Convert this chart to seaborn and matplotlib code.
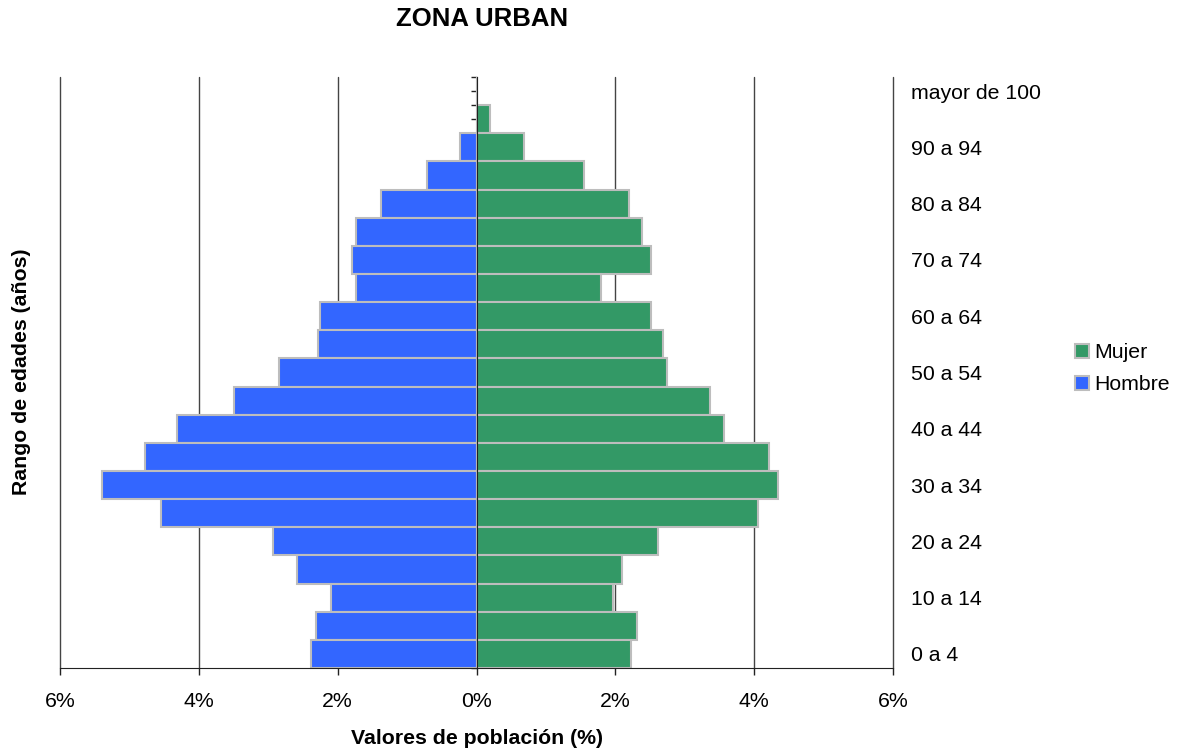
import matplotlib
matplotlib.use("Agg")
import matplotlib.pyplot as plt
from matplotlib.patches import Patch
import seaborn as sns
import pandas as pd
import numpy as np

# age groups, bottom to top
edades = ["0 a 4", "5 a 9", "10 a 14", "15 a 19", "20 a 24", "25 a 29",
          "30 a 34", "35 a 39", "40 a 44", "45 a 49", "50 a 54", "55 a 59",
          "60 a 64", "65 a 69", "70 a 74", "75 a 79", "80 a 84", "85 a 89",
          "90 a 94", "95 a 99", "mayor de 100"]
hombre = [2.38, 2.31, 2.10, 2.59, 2.93, 4.54, 5.40, 4.77, 4.32, 3.49, 2.85,
          2.28, 2.26, 1.73, 1.79, 1.74, 1.38, 0.72, 0.24, 0.0, 0.0]
mujer = [2.23, 2.31, 1.97, 2.09, 2.62, 4.06, 4.34, 4.22, 3.56, 3.37, 2.75,
         2.68, 2.51, 1.79, 2.52, 2.39, 2.20, 1.55, 0.68, 0.20, 0.0]
x_ticks = [-6, -4, -2, 0, 2, 4, 6]

BLUE, GREEN, EDGE = "#3366FF", "#339966", "#BDBDBD"
FS = 15.3

sns.set_style("white")
plt.rcParams["font.family"] = ["Liberation Sans", "DejaVu Sans"]
plt.rcParams.update({"text.color": "black", "xtick.color": "black",
                     "ytick.color": "black", "axes.labelcolor": "black"})

df = pd.DataFrame({
    "edad": edades * 2,
    "sexo": ["Hombre"] * len(edades) + ["Mujer"] * len(edades),
    "valor": [-v for v in hombre] + mujer,
})
orden = edades[::-1]  # top row first

fig = plt.figure(figsize=(11.82, 7.54), dpi=100)
ax = fig.add_axes([60 / 1182, 86 / 754, 833 / 1182, 591 / 754])

sns.barplot(data=df, x="valor", y="edad", hue="sexo", order=orden,
            palette={"Hombre": BLUE, "Mujer": GREEN}, dodge=False,
            saturation=1, width=1.0, edgecolor=EDGE, linewidth=1.5, ax=ax,
            zorder=2, legend=False)

ax.set_xlim(-6, 6)
ax.set_ylim(len(edades) - 0.5, -0.5)

# vertical grid
for xv in x_ticks:
    if xv != 0:
        ax.axvline(xv, color="#444444", lw=1, zorder=0, clip_on=False)

ax.set_xticks(x_ticks)
ax.set_xticklabels([f"{abs(v)}%" for v in x_ticks], fontsize=FS)
ax.tick_params(axis="x", direction="out", length=5, width=1, color="#222222",
               bottom=True, pad=12)

# y axis sits at 0, labels on the right every other group
ax.spines["left"].set_position(("data", 0))
for s in ["top", "right"]:
    ax.spines[s].set_visible(False)
ax.spines["left"].set_color("#222222")
ax.spines["bottom"].set_color("#222222")

pos = np.arange(len(orden))
ax.set_yticks(pos)
ax.set_yticklabels([lab if (len(orden) - 1 - i) % 2 == 0 else ""
                    for i, lab in enumerate(orden)], fontsize=FS)
ax.set_yticks(np.arange(-0.5, len(orden), 1.0), minor=True)
ax.tick_params(axis="y", which="both", direction="out", length=4, width=1,
               color="#222222", left=True, right=False,
               labelleft=False, labelright=True, pad=9)

ax.set_xlabel("Valores de población (%)", fontsize=FS, fontweight="bold",
              labelpad=13)
ax.set_ylabel("")
fig.text(22 / 1182, 1 - 372 / 754, "Rango de edades (años)", rotation=90,
         ha="center", va="center", fontsize=FS, fontweight="bold")
fig.text(482 / 1182, 1 - 19 / 754, "ZONA URBAN", ha="center", va="center",
         fontsize=18.5, fontweight="bold")

handles = [Patch(facecolor=GREEN, edgecolor=EDGE, lw=1.5, label="Mujer"),
           Patch(facecolor=BLUE, edgecolor=EDGE, lw=1.5, label="Hombre")]
fig.legend(handles=handles, loc="upper left",
           bbox_to_anchor=(1056 / 1182, 1 - 324 / 754), frameon=False,
           fontsize=FS, handlelength=0.65, handleheight=0.65,
           handletextpad=0.25, labelspacing=0.62)

fig.savefig("out.png", dpi=100)
